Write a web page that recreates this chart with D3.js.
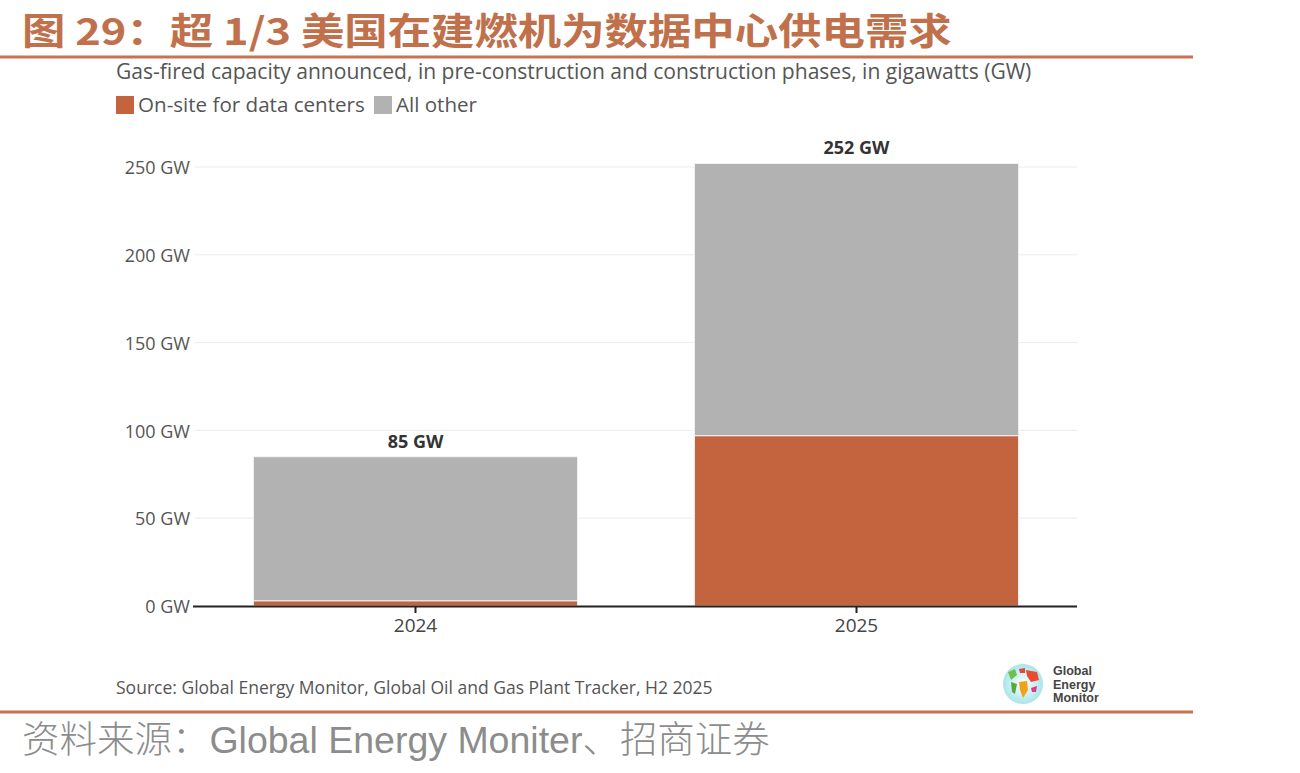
<!DOCTYPE html>
<html><head><meta charset="utf-8">
<script src="https://cdn.jsdelivr.net/npm/d3@7"></script>
<style>body{margin:0;background:#fff}svg{display:block}</style>
</head><body>
<svg id="c" width="1300" height="773"></svg>
<script>
const categories = ["2024", "2025"];
const seriesNames = ["On-site for data centers", "All other"];
const dataCenters = [3, 97];
const allOther = [82, 155];
const totalLabels = ["85 GW", "252 GW"];
const yTicks = [0, 50, 100, 150, 200, 250];

const colors = ["#c4643f", "#b2b2b2"];
const svg = d3.select("#c");
const accent = "#c8724f";

function fit(sel, w) {
  const n = sel.node();
  const fs = parseFloat(sel.attr("font-size"));
  const l = n.getComputedTextLength();
  sel.attr("font-size", (fs * w / l).toFixed(2));
}

// Title (condensed horizontally to match the tall glyphs)
const tg = svg.append("g");
const title = tg.append("text").attr("x", 0).attr("y", 0)
  .attr("font-family", "'Noto Sans CJK SC', sans-serif").attr("font-weight", 700)
  .attr("font-size", 37).attr("fill", "#c0704b")
  .text("图 29：超 1/3 美国在建燃机为数据中心供电需求");
const tw = title.node().getComputedTextLength();
tg.attr("transform", `translate(22,44.5) scale(${(930 / tw).toFixed(4)},1)`);

// rules
svg.append("rect").attr("x", 0).attr("y", 55.5).attr("width", 1193).attr("height", 3).attr("fill", accent);
svg.append("rect").attr("x", 0).attr("y", 710.5).attr("width", 1193).attr("height", 3).attr("fill", accent);

// subtitle
const sub = svg.append("text").attr("x", 116).attr("y", 79)
  .attr("font-family", "'Open Sans', sans-serif").attr("font-size", 19).attr("fill", "#555")
  .text("Gas-fired capacity announced, in pre-construction and construction phases, in gigawatts (GW)");
fit(sub, 916);

// legend
const legX = [116, 374];
seriesNames.forEach((s, i) => {
  svg.append("rect").attr("x", legX[i]).attr("y", 96).attr("width", 18).attr("height", 18).attr("fill", colors[i]);
  const t = svg.append("text").attr("x", legX[i] + 22).attr("y", 112)
    .attr("font-family", "'Open Sans', sans-serif").attr("font-size", 19).attr("fill", "#555").text(s);
  fit(t, i === 0 ? 227 : 81);
});

// scales
const plotL = 195, plotR = 1077;
const y = d3.scaleLinear().domain([0, 250]).range([606, 167]);
const x = d3.scaleBand().domain(categories).range([plotL, plotR]).paddingInner(0.265).paddingOuter(0.1325);

// grid
svg.append("g").selectAll("line").data(yTicks.slice(1)).join("line")
  .attr("x1", plotL).attr("x2", plotR).attr("y1", d => y(d)).attr("y2", d => y(d))
  .attr("stroke", "#ececec").attr("stroke-width", 1);

// y labels
const yAxis = svg.append("g").attr("transform", `translate(${plotL},1)`)
  .call(d3.axisLeft(y).tickValues(yTicks).tickFormat(d => d + " GW").tickSize(0).tickPadding(5));
yAxis.select(".domain").remove();
yAxis.selectAll("text").attr("font-family", "'Open Sans', sans-serif").attr("font-size", 18).attr("fill", "#555");

// stacked bars
const rows = categories.map((c, i) => ({cat: c, dc: dataCenters[i], other: allOther[i]}));
const stack = d3.stack().keys(["dc", "other"])(rows);
svg.append("g").selectAll("g").data(stack).join("g").attr("fill", (d, i) => colors[i])
  .selectAll("rect").data(d => d).join("rect")
  .attr("x", d => x(d.data.cat)).attr("width", x.bandwidth())
  .attr("y", d => y(d[1])).attr("height", d => y(d[0]) - y(d[1]))
  .attr("stroke", "#f2f2f2").attr("stroke-width", 1);

// total labels
svg.append("g").selectAll("text").data(rows).join("text")
  .attr("x", d => x(d.cat) + x.bandwidth() / 2).attr("y", d => y(d.dc + d.other) - 9)
  .attr("text-anchor", "middle").attr("font-family", "'Open Sans', sans-serif")
  .attr("font-weight", 700).attr("font-size", 18).attr("fill", "#333")
  .text((d, i) => totalLabels[i]);

// x axis
const xAxis = svg.append("g").attr("transform", "translate(0,606)")
  .call(d3.axisBottom(x).tickSize(7).tickPadding(6));
xAxis.select(".domain").attr("d", `M${plotL - 2},0.5H${plotR}`).attr("stroke", "#222").attr("stroke-width", 2);
xAxis.selectAll(".tick line").attr("stroke", "#222").attr("stroke-width", 2);
xAxis.selectAll("text").attr("font-family", "'Open Sans', sans-serif").attr("font-size", 19).attr("fill", "#444");

// source
const src = svg.append("text").attr("x", 116).attr("y", 694)
  .attr("font-family", "'Open Sans', sans-serif").attr("font-size", 16).attr("fill", "#555")
  .text("Source: Global Energy Monitor, Global Oil and Gas Plant Tracker, H2 2025");
fit(src, 597);

// logo
const lg = svg.append("g").attr("transform", "translate(1023,684)");
const grad = svg.append("defs").append("radialGradient").attr("id", "gl");
grad.append("stop").attr("offset", "0%").attr("stop-color", "#ffffff");
grad.append("stop").attr("offset", "100%").attr("stop-color", "#a8e6ea");
lg.append("circle").attr("r", 20).attr("fill", "url(#gl)");
lg.append("path").attr("d", "M-15,-12 L-8,-15 L-6,-9 L-12,-4 Z").attr("fill", "#6fc04a");
lg.append("path").attr("d", "M-12,-2 L-6,0 L-8,10 L-11,8 Z").attr("fill", "#5aa83a");
lg.append("path").attr("d", "M-4,-15 L2,-16 L2,-11 L-3,-11 Z").attr("fill", "#e8453a");
lg.append("path").attr("d", "M3,-14 L14,-12 L16,-4 L8,-2 L4,-8 Z").attr("fill", "#ea4a2f");
lg.append("path").attr("d", "M-4,-2 L4,-3 L5,6 L0,14 L-3,6 Z").attr("fill", "#f0a21a");
lg.append("path").attr("d", "M8,4 L14,2 L13,8 L9,8 Z").attr("fill", "#d93a8a");
["Global", "Energy", "Monitor"].forEach((t, i) => {
  svg.append("text").attr("x", 1053).attr("y", 675 + i * 13.5)
    .attr("font-family", "'Liberation Sans', Arial, sans-serif").attr("font-weight", 700)
    .attr("font-size", 12.5).attr("fill", "#444").text(t);
});

// footer
const foot = svg.append("text").attr("x", 22).attr("y", 753)
  .attr("font-family", "'Liberation Sans', 'Noto Sans CJK SC', sans-serif").attr("font-size", 34)
  .attr("fill", "#8c8c8c").attr("font-weight", 300);
foot.append("tspan").attr("font-family", "'Noto Sans CJK SC', sans-serif").attr("font-weight", 300).text("资料来源：");
foot.append("tspan").text("Global Energy Moniter");
foot.append("tspan").attr("font-family", "'Noto Sans CJK SC', sans-serif").attr("font-weight", 300).text("、招商证券");
fit(foot, 748);
</script>
</body></html>
